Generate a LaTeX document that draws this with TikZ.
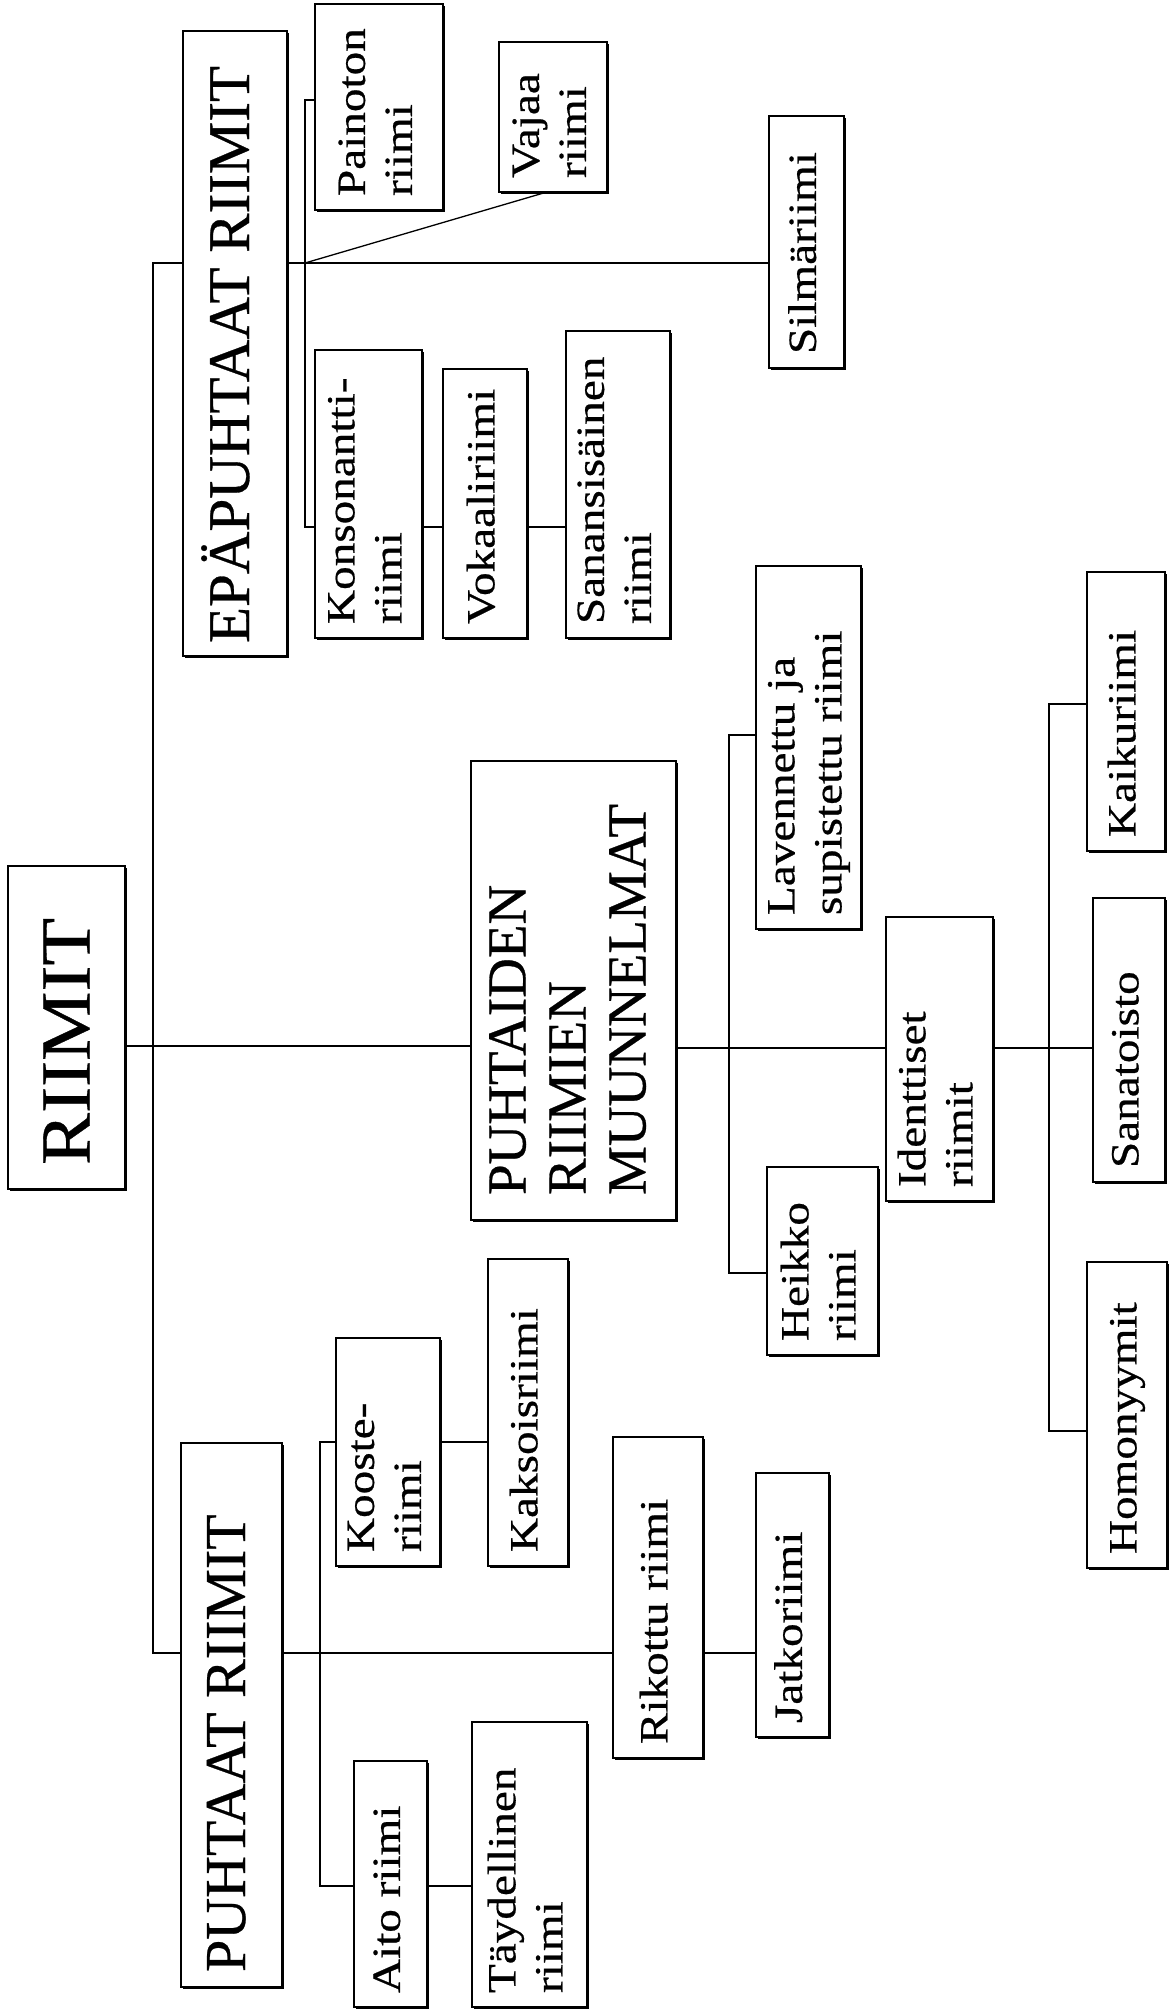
\documentclass[tikz,border=0pt]{standalone}
\usepackage{fontspec}
\setmainfont{Liberation Serif}[BoldFont=Liberation Serif, BoldFeatures={FakeBold=0.5}]
\usepackage{graphicx}
\usetikzlibrary{shadows}
\tikzset{
  box/.style={draw, rectangle, line width=1.8pt, fill=white, inner sep=0pt, outer sep=0pt,
    font=\bfseries,
    drop shadow={shadow xshift=1.6pt, shadow yshift=-1.6pt, opacity=1, fill=black}},
  conn/.style={line width=1.3pt},
}
% small label: #1 = box length (reading direction), #2 = lines
\newcommand{\lbl}[2]{\rotatebox{90}{\makebox[#1][l]{\hspace{14pt}\scalebox{1.18}[1]{\fontsize{40}{47}\selectfont\begin{tabular}{@{}l@{}}#2\end{tabular}}}}}
% header: #1 = box length, #2 = pad, #3 = font size, #4 = skip, #5 = lines
\newcommand{\hdr}[5]{\rotatebox{90}{\makebox[#1][l]{\hspace{#2}\fontsize{#3}{#4}\selectfont\begin{tabular}{@{}l@{}}#5\end{tabular}}}}
\begin{document}
\begin{tikzpicture}[x=1pt,y=-1pt]
\useasboundingbox (0,0) rectangle (1171,2013);

% main nodes
\node[box, minimum width=117pt, minimum height=323pt] (riimit) at (66.5,1027.5)
  {\rotatebox{90}{\makebox[323pt][l]{\hspace{24pt}\scalebox{1.1}[1]{\fontsize{71}{80}\selectfont RIIMIT}}}};
\node[box, minimum width=104pt, minimum height=625pt] (epa) at (235,343.5)
  {\hdr{625pt}{13pt}{59}{70}{EPÄPUHTAAT RIIMIT}};
\node[box, minimum width=205pt, minimum height=459pt] (puhtaiden) at (573.5,990.5)
  {\hdr{459pt}{25pt}{55}{60}{PUHTAIDEN\\RIIMIEN\\MUUNNELMAT}};
\node[box, minimum width=101pt, minimum height=544pt] (puhtaat) at (231.5,1715)
  {\hdr{544pt}{15pt}{58}{68}{PUHTAAT RIIMIT}};

% impure branch
\node[box, minimum width=128pt, minimum height=206pt] (painoton) at (379,107) {\lbl{206pt}{Painoton\\riimi}};
\node[box, minimum width=108pt, minimum height=150pt] (vajaa) at (553,117) {\lbl{150pt}{Vajaa\\riimi}};
\node[box, minimum width=75pt, minimum height=252pt] (silma) at (806.5,242) {\lbl{252pt}{Silmäriimi}};
\node[box, minimum width=107pt, minimum height=288pt] (konson) at (368.5,494) {\lbl{288pt}{Konsonantti-\\riimi}};
\node[box, minimum width=84pt, minimum height=269pt] (vokaali) at (485,503.5) {\lbl{269pt}{Vokaaliriimi}};
\node[box, minimum width=104pt, minimum height=307pt] (sanans) at (618,484.5) {\lbl{307pt}{Sanansisäinen\\riimi}};

% variants branch
\node[box, minimum width=105pt, minimum height=363pt] (lavennettu) at (808.5,747.5) {\lbl{363pt}{Lavennettu ja\\supistettu riimi}};
\node[box, minimum width=111pt, minimum height=188pt] (heikko) at (822.5,1261) {\lbl{188pt}{Heikko\\riimi}};
\node[box, minimum width=107pt, minimum height=284pt] (identtiset) at (939.5,1059) {\lbl{284pt}{Identtiset\\riimit}};
\node[box, minimum width=78pt, minimum height=279pt] (kaiku) at (1126,711.5) {\lbl{279pt}{Kaikuriimi}};
\node[box, minimum width=72pt, minimum height=284pt] (sanatoisto) at (1129,1040) {\lbl{284pt}{Sanatoisto}};
\node[box, minimum width=80pt, minimum height=306pt] (homonyymit) at (1127,1415) {\lbl{306pt}{Homonyymit}};

% pure branch
\node[box, minimum width=104pt, minimum height=228pt] (kooste) at (388,1452) {\lbl{228pt}{Kooste-\\riimi}};
\node[box, minimum width=80pt, minimum height=307pt] (kaksois) at (528,1412.5) {\lbl{307pt}{Kaksoisriimi}};
\node[box, minimum width=73pt, minimum height=246pt] (aito) at (390.5,1884) {\lbl{246pt}{Aito riimi}};
\node[box, minimum width=115pt, minimum height=285pt] (taydellinen) at (529.5,1864.5) {\lbl{285pt}{Täydellinen\\riimi}};
\node[box, minimum width=90pt, minimum height=321pt] (rikottu) at (658,1597.5) {\lbl{321pt}{Rikottu riimi}};
\node[box, minimum width=73pt, minimum height=264pt] (jatko) at (792.5,1605) {\lbl{264pt}{Jatkoriimi}};

% junction coordinates
\coordinate (yR) at (0,1046);
\coordinate (yR2) at (0,1048);
\coordinate (tTop) at (153,263);
\coordinate (tBot) at (153,1653);
\coordinate (bEtop) at (305,100);
\coordinate (bEmid) at (305,263);
\coordinate (bEbot) at (305,527);
\coordinate (bMtop) at (729,735);
\coordinate (bMbot) at (729,1273);
\coordinate (bItop) at (1049,704);
\coordinate (bIbot) at (1049,1431);
\coordinate (bPtop) at (320,1442);
\coordinate (bPbot) at (320,1886);

% connectors
\draw[conn] (riimit.east |- yR) -- (puhtaiden.west |- yR);
\draw[conn] (epa.west |- tTop) -- (tTop) -- (tBot) -- (puhtaat.west |- tBot);
\draw[conn] (epa.east |- tTop) -- (silma.west |- tTop);
\draw[conn] (painoton.west |- bEtop) -- (bEtop) -- (bEbot) -- (konson.west |- bEbot);
\draw[conn] (bEmid) -- ([xshift=-6pt]vajaa.south);
\draw[conn] (konson.east |- bEbot) -- (vokaali.west |- bEbot);
\draw[conn] (vokaali.east |- bEbot) -- (sanans.west |- bEbot);
\draw[conn] (puhtaiden.east |- yR2) -- (identtiset.west |- yR2);
\draw[conn] (lavennettu.west |- bMtop) -- (bMtop) -- (bMbot) -- (heikko.west |- bMbot);
\draw[conn] (identtiset.east |- yR2) -- (sanatoisto.west |- yR2);
\draw[conn] (kaiku.west |- bItop) -- (bItop) -- (bIbot) -- (homonyymit.west |- bIbot);
\draw[conn] (puhtaat.east |- tBot) -- (rikottu.west |- tBot);
\draw[conn] (kooste.west |- bPtop) -- (bPtop) -- (bPbot) -- (aito.west |- bPbot);
\draw[conn] (kooste.east |- bPtop) -- (kaksois.west |- bPtop);
\draw[conn] (aito.east |- bPbot) -- (taydellinen.west |- bPbot);
\draw[conn] (rikottu.east |- tBot) -- (jatko.west |- tBot);
\end{tikzpicture}
\end{document}
